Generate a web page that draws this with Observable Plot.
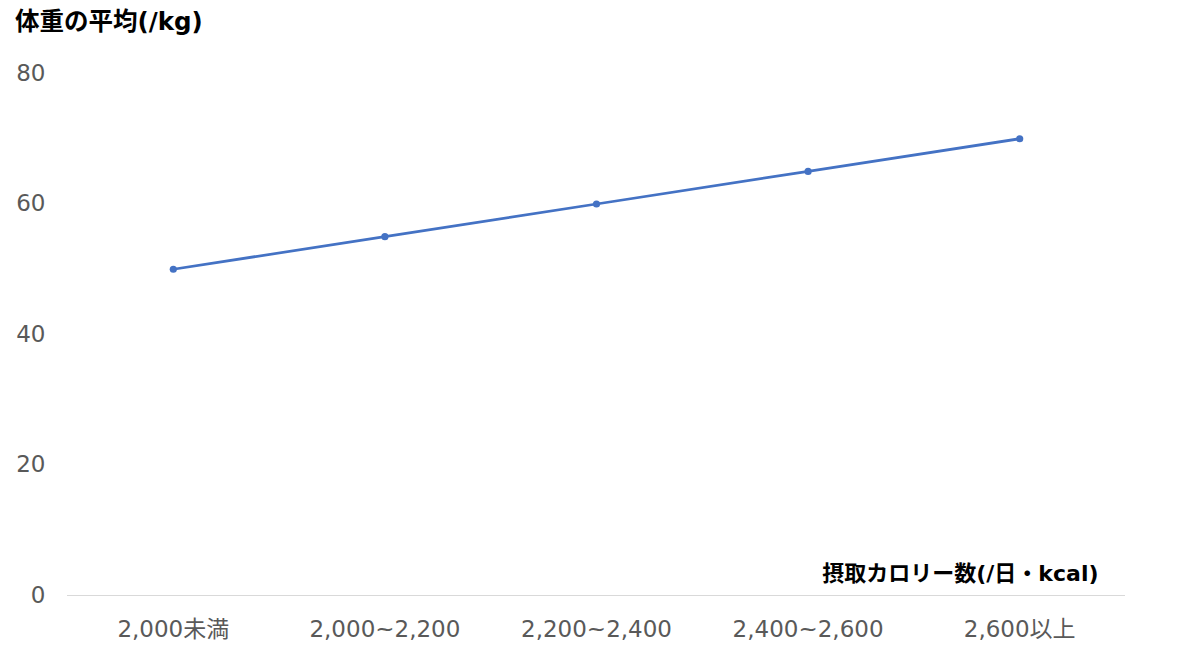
<!DOCTYPE html>
<html><head><meta charset="utf-8">
<script src="https://cdn.jsdelivr.net/npm/d3@7"></script>
<script src="https://cdn.jsdelivr.net/npm/@observablehq/plot@0.6"></script>
<style>
body{margin:0;background:#fff;font-family:"DejaVu Sans","Noto Sans CJK JP",sans-serif;}
#title{height:45px;box-sizing:border-box;padding:5px 0 0 15px;font-size:24.5px;font-weight:bold;color:#000;line-height:34px;font-family:"DejaVu Sans","Noto Sans CJK JP",sans-serif;}
</style></head>
<body>
<div id="title">体重の平均(/kg)</div>
<div id="chart"></div>
<script>
const categories = ["2,000未満", "2,000~2,200", "2,200~2,400", "2,400~2,600", "2,600以上"];
const weights = [50, 55, 60, 65, 70];
const yTicks = [0, 20, 40, 60, 80];
const xTitle = "摂取カロリー数(/日・kcal)";

const data = categories.map((c, i) => ({cat: c, w: weights[i]}));
const FONT = '"DejaVu Sans","Noto Sans CJK JP",sans-serif';

const plot = Plot.plot({
  width: 1200,
  height: 616,
  marginTop: 28,
  marginBottom: 66,
  marginLeft: 67,
  marginRight: 75,
  style: {fontFamily: FONT, fontSize: "23px", color: "#595959", background: "#fff"},
  x: {type: "point", domain: categories, padding: 0.5, round: false, label: null},
  y: {domain: [0, 80], ticks: yTicks, label: null},
  marks: [
    Plot.ruleY([0], {stroke: "#d9d9d9", strokeWidth: 1}),
    Plot.axisY({ticks: yTicks, tickSize: 0, tickPadding: 22, label: null, fill: "#595959", fontSize: 23}),
    Plot.axisX({tickSize: 0, tickPadding: 25, label: null, fill: "#595959", fontSize: 23}),
    Plot.line(data, {x: "cat", y: "w", stroke: "#4472C4", strokeWidth: 2.75}),
    Plot.dot(data, {x: "cat", y: "w", fill: "#4472C4", r: 3.6}),
    Plot.text([xTitle], {frameAnchor: "bottom-right", text: d => d, dx: -27, dy: -22, textAnchor: "end", lineAnchor: "middle", fontWeight: "bold", fontSize: 22, fill: "#000"})
  ]
});
document.getElementById("chart").appendChild(plot);
</script>
</body></html>
